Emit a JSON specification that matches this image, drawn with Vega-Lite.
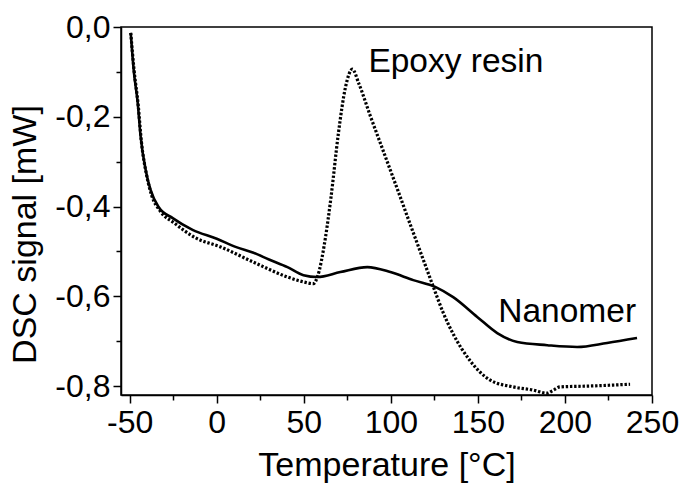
{
  "$schema": "https://vega.github.io/schema/vega-lite/v6.json",
  "width": 531,
  "height": 368,
  "autosize": "none",
  "padding": {"left": 121, "top": 27, "right": 28, "bottom": 89},
  "background": "white",
  "config": {
    "view": {"stroke": "black", "strokeWidth": 1.5},
    "font": "Liberation Sans",
    "axis": {
      "domainColor": "black", "domainWidth": 1.5, "tickColor": "black", "tickWidth": 1.5,
      "labelColor": "black", "titleColor": "black", "grid": false,
      "labelFont": "Liberation Sans", "titleFont": "Liberation Sans",
      "labelFontSize": 32, "titleFontSize": 34, "titleFontWeight": "normal"
    }
  },
  "datasets": {
    "nanomer": [
      {"t": -49.4, "v": -0.013}, {"t": -47.7, "v": -0.096}, {"t": -45.4, "v": -0.169}, {"t": -43.7, "v": -0.245},
      {"t": -40.8, "v": -0.319}, {"t": -38.0, "v": -0.363}, {"t": -33.4, "v": -0.401}, {"t": -25.3, "v": -0.426},
      {"t": -13.9, "v": -0.452}, {"t": 0.0, "v": -0.472}, {"t": 10.8, "v": -0.490}, {"t": 21.1, "v": -0.503},
      {"t": 30.0, "v": -0.518}, {"t": 40.6, "v": -0.535}, {"t": 49.8, "v": -0.553}, {"t": 57.8, "v": -0.557},
      {"t": 71.0, "v": -0.546}, {"t": 86.5, "v": -0.535}, {"t": 99.7, "v": -0.546}, {"t": 112.9, "v": -0.564},
      {"t": 125.5, "v": -0.579}, {"t": 135.8, "v": -0.602}, {"t": 149.6, "v": -0.646}, {"t": 161.1, "v": -0.682},
      {"t": 172.6, "v": -0.702}, {"t": 189.8, "v": -0.709}, {"t": 207.0, "v": -0.713}, {"t": 224.2, "v": -0.704},
      {"t": 241.4, "v": -0.693}
    ],
    "epoxy": [
      {"t": -49.4, "v": -0.013}, {"t": -47.5, "v": -0.096}, {"t": -45.1, "v": -0.175}, {"t": -43.3, "v": -0.255},
      {"t": -40.3, "v": -0.330}, {"t": -37.4, "v": -0.375}, {"t": -32.5, "v": -0.410}, {"t": -24.0, "v": -0.438},
      {"t": -12.1, "v": -0.470}, {"t": 2.2, "v": -0.490}, {"t": 21.1, "v": -0.524}, {"t": 40.6, "v": -0.557},
      {"t": 49.8, "v": -0.568}, {"t": 55.5, "v": -0.572}, {"t": 57.8, "v": -0.557}, {"t": 62.4, "v": -0.470},
      {"t": 65.6, "v": -0.380}, {"t": 69.9, "v": -0.236}, {"t": 73.9, "v": -0.135}, {"t": 77.9, "v": -0.094},
      {"t": 81.5, "v": -0.125}, {"t": 88.0, "v": -0.196}, {"t": 96.0, "v": -0.280}, {"t": 104.0, "v": -0.364},
      {"t": 112.0, "v": -0.449}, {"t": 118.0, "v": -0.512}, {"t": 124.4, "v": -0.579}, {"t": 130.0, "v": -0.636},
      {"t": 135.8, "v": -0.684}, {"t": 145.6, "v": -0.744}, {"t": 157.1, "v": -0.787}, {"t": 170.3, "v": -0.802},
      {"t": 181.7, "v": -0.809}, {"t": 189.8, "v": -0.816}, {"t": 192.6, "v": -0.811}, {"t": 197.2, "v": -0.802},
      {"t": 214.4, "v": -0.800}, {"t": 237.4, "v": -0.796}
    ],
    "labels": [
      {"t": 87.1, "v": -0.100, "label": "Epoxy resin"},
      {"t": 161.7, "v": -0.657, "label": "Nanomer"}
    ]
  },
  "layer": [
    {
      "data": {"name": "nanomer"},
      "mark": {"type": "line", "color": "black", "strokeWidth": 2.6, "interpolate": "monotone", "clip": true},
      "encoding": {
        "x": {"field": "t", "type": "quantitative", "scale": {"domain": [-55, 250], "nice": false, "zero": false},
          "axis": {"values": [-50, 0, 50, 100, 150, 200, 250], "tickSize": 8, "labelPadding": 4,
            "labelExpr": "replace(format(datum.value, 'd'), '\u2212', '-')",
            "title": "Temperature [°C]", "titlePadding": 10, "labelFlush": false}},
        "y": {"field": "v", "type": "quantitative", "scale": {"domain": [-0.82, 0], "nice": false, "zero": false},
          "axis": {"values": [0, -0.2, -0.4, -0.6, -0.8], "tickSize": 8, "labelPadding": 3,
            "labelExpr": "replace(replace(format(datum.value, '.1f'), '.', ','), '\u2212', '-')",
            "title": "DSC signal [mW]", "titlePadding": 12, "titleY": 207, "labelFlush": false}}
      }
    },
    {
      "data": {"name": "epoxy"},
      "mark": {"type": "line", "color": "black", "strokeWidth": 3.2, "strokeDash": [2.4, 1.8], "interpolate": "monotone", "clip": true},
      "encoding": {
        "x": {"field": "t", "type": "quantitative", "scale": {"domain": [-55, 250], "nice": false, "zero": false},
          "axis": {"values": [-25, 25, 75, 125, 175, 225], "tickSize": 5, "labels": false, "domain": false, "title": null, "orient": "bottom"}},
        "y": {"field": "v", "type": "quantitative", "scale": {"domain": [-0.82, 0], "nice": false, "zero": false},
          "axis": {"values": [-0.1, -0.3, -0.5, -0.7], "tickSize": 5, "labels": false, "domain": false, "title": null, "orient": "left"}}
      }
    },
    {
      "data": {"name": "labels"},
      "mark": {"type": "text", "align": "left", "baseline": "alphabetic", "fontSize": 33.5, "font": "Liberation Sans", "color": "black"},
      "encoding": {
        "x": {"field": "t", "type": "quantitative", "scale": {"domain": [-55, 250], "nice": false, "zero": false}, "axis": null},
        "y": {"field": "v", "type": "quantitative", "scale": {"domain": [-0.82, 0], "nice": false, "zero": false}, "axis": null},
        "text": {"field": "label"}
      }
    }
  ],
  "resolve": {"axis": {"x": "independent", "y": "independent"}}
}
